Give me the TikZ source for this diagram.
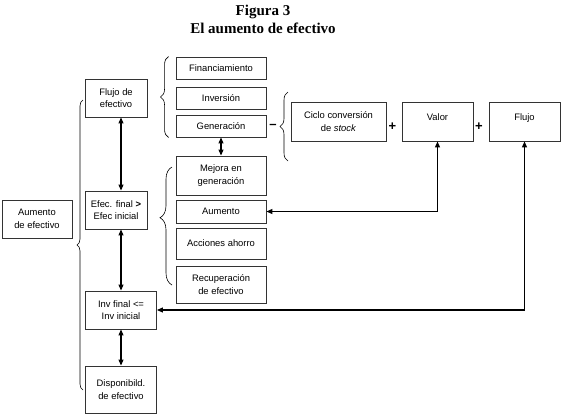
\documentclass[tikz,border=0pt]{standalone}
\usepackage{fontspec}
\setmainfont{Liberation Sans}
\newfontfamily\titfont{Liberation Serif}
\usetikzlibrary{arrows.meta,decorations.pathreplacing,calc}
\definecolor{cajaLinea}{HTML}{333333}

\begin{document}
\begin{tikzpicture}[x=1pt, y=-1pt,
  caja/.style={draw=cajaLinea, line width=0.9pt, fill=white, align=center, inner sep=1pt,
    font=\fontsize{9.4}{12.5}\selectfont},
  dflecha/.style={{Triangle[length=6pt,width=5pt]}-{Triangle[length=6pt,width=5pt]}, line width=1.1pt},
  llave/.style={decorate, decoration={brace, amplitude=#1}, line width=0.6pt},
  llave/.default=8,
  signo/.style={inner sep=0pt, font=\bfseries\fontsize{13}{14}\selectfont}]
  \useasboundingbox (0,0) rectangle (562,416);

  % titulo
  \node[align=center, font=\titfont\bfseries\fontsize{15}{18.5}\selectfont] (titulo) at (263,19.5)
    {Figura 3\\El aumento de efectivo};

  % columna izquierda
  \node[caja, minimum width=70, minimum height=38] (aum) at (37,219) {Aumento\\de efectivo};
  \node[caja, minimum width=62, minimum height=38] (flujoef) at (116,98) {Flujo de\\efectivo};
  \node[caja, minimum width=62, minimum height=38] (efec) at (116,210) {Efec. final \textbf{>}\\Efec inicial};
  \node[caja, minimum width=71, minimum height=38] (inv) at (121,310) {Inv final <=\\Inv inicial};
  \node[caja, minimum width=71, minimum height=47] (disp) at (121,389.5) {Disponibild.\\de efectivo};

  % columna central
  \foreach \nom/\yc/\alto/\txt in {
    fin/68/22/Financiamiento,
    inver/98/22/Inversión,
    gen/126/22/Generación,
    mejora/175.5/39/{Mejora en\\generación},
    aumento/211.5/23/Aumento,
    acciones/243.5/31/Acciones ahorro,
    recup/284.5/37/{Recuperación\\de efectivo}}{
    \node[caja, minimum width=90, minimum height=\alto] (\nom) at (221,\yc) {\txt};
  }

  % fila derecha
  \node[caja, minimum width=95, minimum height=39] (ciclo) at (338.5,121.5) {Ciclo conversión\\de \textit{stock}};
  \node[caja, minimum width=71, minimum height=39, text height=7, text depth=10] (valor) at (437.5,121.5) {Valor};
  \node[caja, minimum width=71, minimum height=39, text height=7, text depth=10] (flujo) at (524.5,121.5) {Flujo};
  \node[signo] (guion) at (273,126.5) {–};
  \node[signo] (mas1) at (392.5,126.5) {+};
  \node[signo] (mas2) at (479,126.5) {+};

  % llaves
  \draw[llave=6] (83,390) -- (83,100);
  \draw[llave] ([xshift=-7]gen.south west) -- ([xshift=-7]fin.north west);
  \draw[llave] (288,161) -- (288,92);
  \draw[llave=12, decoration={aspect=0.57}] (172,285) -- (172,167);

  % flechas
  \foreach \a/\b in {flujoef/efec, efec/inv, inv/disp}
    \draw[dflecha] (inv.north |- \a.south) -- (inv.north |- \b.north);
  \draw[dflecha] (gen.south) -- (mejora.north);
  \draw[dflecha] (valor.south) |- (aumento.east);
  \draw[dflecha] (flujo.south) |- (inv.east);
\end{tikzpicture}
\end{document}
